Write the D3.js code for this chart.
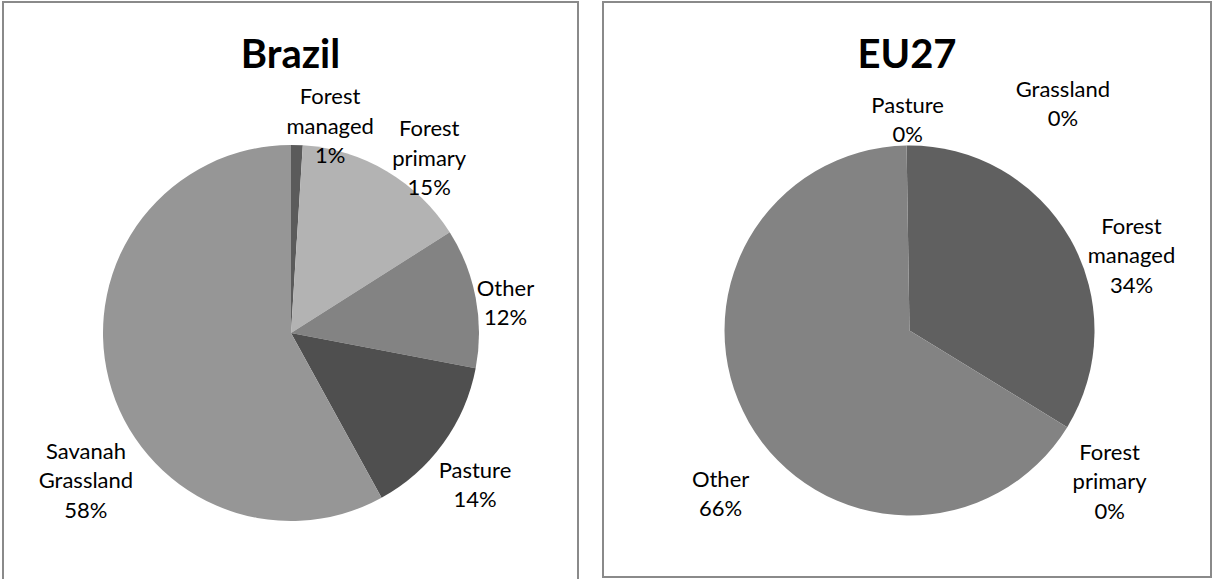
<!DOCTYPE html>
<html>
<head>
<meta charset="utf-8">
<script src="https://cdn.jsdelivr.net/npm/d3@7"></script>
<style>
  body { margin: 0; background: #fff; }
  svg { display: block; font-family: Lato, "Open Sans", sans-serif; }
</style>
</head>
<body>
<svg id="chart" width="1213" height="579"></svg>
<script>
// Land cover shares by region
const chartTitles = ["Brazil", "EU27"];

const brazilCategories = ["Forest managed", "Forest primary", "Other", "Pasture", "Savanah Grassland"];
const brazilValues = [1, 15, 12, 14, 58];

const eu27Categories = ["Forest managed", "Forest primary", "Other", "Pasture", "Grassland"];
const eu27Values = [34, 0, 66, 0, 0];

// Slice fills
const brazilColors = ["#5b5b5b", "#b3b3b3", "#838383", "#4f4f4f", "#969696"];
const eu27Colors = ["#606060", "#a6a6a6", "#838383", "#4f4f4f", "#969696"];

// Data label placement: angle (degrees clockwise from 12 o'clock) and distance in pie radii
const brazilLabelAngles = [10.7, 38.3, 82.0, 129.6, 234.2];
const brazilLabelRadii = [1.12, 1.186, 1.152, 1.27, 1.345];
const eu27LabelAngles = [71.4, 127.1, 229.1, -0.5, 34.1];
const eu27LabelRadii = [1.266, 1.356, 1.351, 1.138, 1.479];

const svg = d3.select("#chart");

const panels = [
  {
    title: chartTitles[0], categories: brazilCategories, values: brazilValues, colors: brazilColors,
    labelAngles: brazilLabelAngles, labelRadii: brazilLabelRadii,
    box: { x: 3, y: 2, w: 575, h: 620 }, cx: 291, cy: 333, r: 188, rotation: 0
  },
  {
    title: chartTitles[1], categories: eu27Categories, values: eu27Values, colors: eu27Colors,
    labelAngles: eu27LabelAngles, labelRadii: eu27LabelRadii,
    box: { x: 603, y: 2, w: 608, h: 575 }, cx: 909.5, cy: 330.5, r: 185, rotation: -0.9
  }
];

const pct = d3.format(".0%");
const lineH = 29.5;

panels.forEach(p => {
  const g = svg.append("g");

  // chart area frame
  g.append("rect")
    .attr("x", p.box.x).attr("y", p.box.y)
    .attr("width", p.box.w).attr("height", p.box.h)
    .attr("fill", "#fff")
    .attr("stroke", "#8a8a8a")
    .attr("stroke-width", 2);

  // title
  g.append("text")
    .attr("x", p.box.x + p.box.w / 2)
    .attr("y", 68)
    .attr("text-anchor", "middle")
    .attr("font-weight", 700)
    .attr("font-size", 40)
    .attr("fill", "#000")
    .text(p.title);

  const rot = p.rotation * Math.PI / 180;
  const pie = d3.pie().sort(null).value(d => d)
    .startAngle(rot).endAngle(rot + 2 * Math.PI);
  const arcs = pie(p.values);
  const arc = d3.arc().innerRadius(0).outerRadius(p.r);

  const pieG = g.append("g").attr("transform", `translate(${p.cx},${p.cy})`);
  pieG.selectAll("path")
    .data(arcs)
    .join("path")
    .attr("d", arc)
    .attr("fill", (d, i) => p.colors[i]);

  const total = d3.sum(p.values);

  // data labels: category name broken on spaces, then the percentage
  const labelG = pieG.selectAll("g.label")
    .data(arcs)
    .join("g")
    .attr("class", "label")
    .attr("transform", (d, i) => {
      const a = p.labelAngles[i] * Math.PI / 180;
      const rr = p.labelRadii[i] * p.r;
      const c = d3.arc().innerRadius(rr).outerRadius(rr).startAngle(a).endAngle(a).centroid();
      return `translate(${c[0]},${c[1]})`;
    });

  labelG.each(function (d, i) {
    const lines = p.categories[i].split(" ").concat([pct(d.data / total)]);
    const n = lines.length;
    d3.select(this).selectAll("text")
      .data(lines)
      .join("text")
      .attr("text-anchor", "middle")
      .attr("y", (t, k) => (k - (n - 1) / 2) * lineH + 7.5)
      .attr("font-size", 22)
      .attr("fill", "#000")
      .text(t => t);
  });
});
</script>
</body>
</html>
